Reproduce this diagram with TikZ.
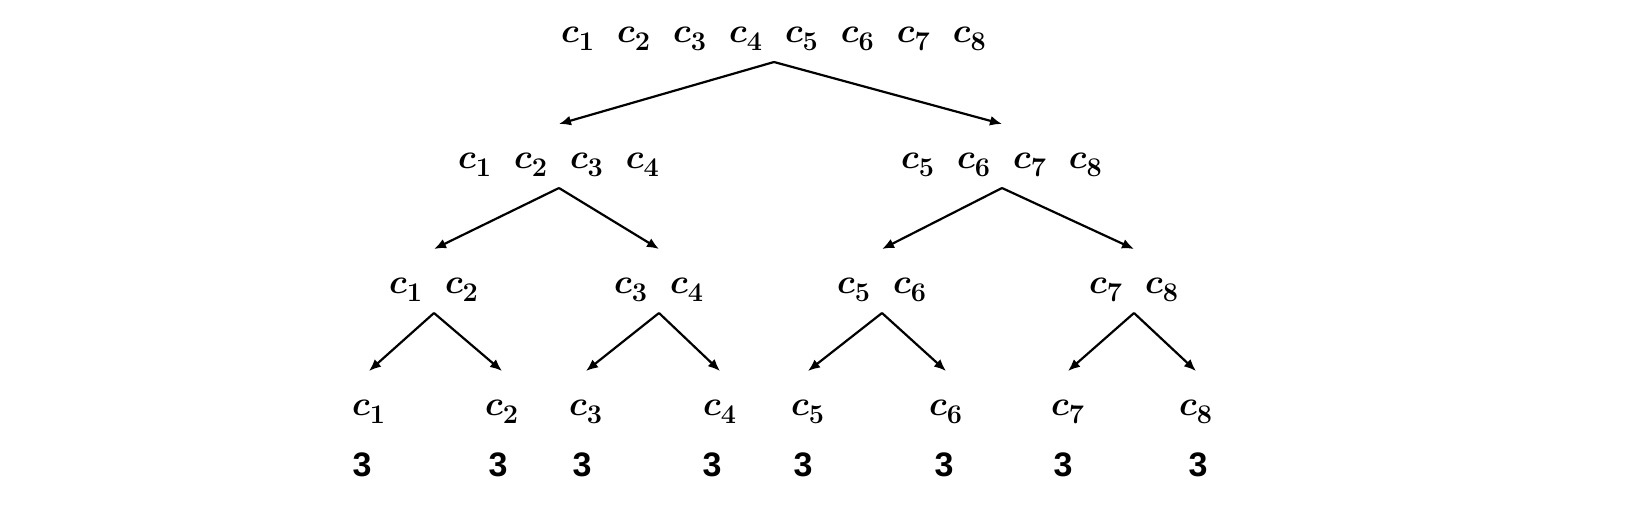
\documentclass[tikz,border=0pt]{standalone}
\usepackage{amsmath}
\usepackage{amssymb}
\usepackage{fontspec}
\usepackage{tikz}
\usetikzlibrary{arrows.meta}
\newfontfamily\numfont{Liberation Sans}
\newcommand{\cc}[1]{\boldsymbol{c}_{\raisebox{-1.5pt}{\fontsize{13.5}{16}\selectfont\bfseries #1}}}
\newcommand{\gap}{\hspace{11pt}}
\tikzset{
  grp/.style={inner sep=0pt, outer ysep=8pt, text height=14pt, text depth=2pt,
    anchor=base, font=\fontsize{18}{22}\selectfont},
  cnt/.style={inner sep=0pt, anchor=base, font=\fontsize{17}{20}\selectfont\numfont\bfseries},
  br/.style={-{Latex[length=6pt,width=5pt]}, line width=1.1pt}
}
\begin{document}
\begin{tikzpicture}[x=0.5pt,y=-0.5pt]
    \useasboundingbox (0,0) rectangle (1639,510);

    \node[grp] (r) at (774,42) {$\cc1\gap\cc2\gap\cc3\gap\cc4\gap\cc5\gap\cc6\gap\cc7\gap\cc8$};

    \node[grp] (l) at (559,168) {$\cc1\gap\cc2\gap\cc3\gap\cc4$};
    \node[grp] (rr) at (1002,168) {$\cc5\gap\cc6\gap\cc7\gap\cc8$};
    \draw[br] (r.south) -- (l.north);
    \draw[br] (r.south) -- (rr.north);

    \node[grp] (ll) at (434,293) {$\cc1\gap\cc2$};
    \node[grp] (lr) at (659,293) {$\cc3\gap\cc4$};
    \node[grp] (rl) at (882,293) {$\cc5\gap\cc6$};
    \node[grp] (rrr) at (1134,293) {$\cc7\gap\cc8$};
    \draw[br] (l.south) -- (ll.north);
    \draw[br] (l.south) -- (lr.north);
    \draw[br] (rr.south) -- (rl.north);
    \draw[br] (rr.south) -- (rrr.north);

    \node[grp] (c1) at (369,415) {$\cc1$};
    \node[grp] (c2) at (502,415) {$\cc2$};
    \node[grp] (c3) at (586,415) {$\cc3$};
    \node[grp] (c4) at (720,415) {$\cc4$};
    \node[grp] (c5) at (808,415) {$\cc5$};
    \node[grp] (c6) at (946,415) {$\cc6$};
    \node[grp] (c7) at (1068,415) {$\cc7$};
    \node[grp] (c8) at (1196,415) {$\cc8$};
    \draw[br] (ll.south) -- (c1.north);
    \draw[br] (ll.south) -- (c2.north);
    \draw[br] (lr.south) -- (c3.north);
    \draw[br] (lr.south) -- (c4.north);
    \draw[br] (rl.south) -- (c5.north);
    \draw[br] (rl.south) -- (c6.north);
    \draw[br] (rrr.south) -- (c7.north);
    \draw[br] (rrr.south) -- (c8.north);

    \node[cnt] (n1) at (362,476) {3};
    \node[cnt] (n2) at (498,476) {3};
    \node[cnt] (n3) at (582,476) {3};
    \node[cnt] (n4) at (712,476) {3};
    \node[cnt] (n5) at (803,476) {3};
    \node[cnt] (n6) at (944,476) {3};
    \node[cnt] (n7) at (1063,476) {3};
    \node[cnt] (n8) at (1198,476) {3};
\end{tikzpicture}
\end{document}
